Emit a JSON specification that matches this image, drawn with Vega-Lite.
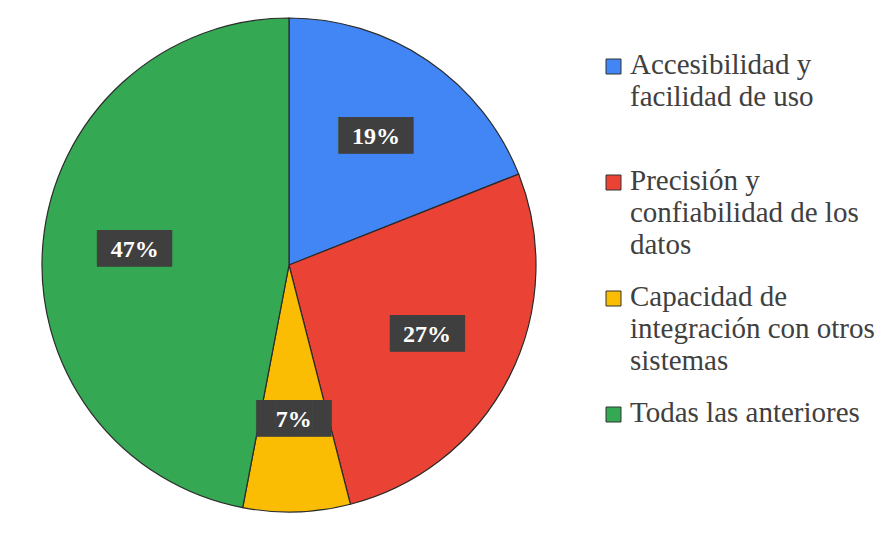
{
  "$schema": "https://vega.github.io/schema/vega-lite/v6.json",
  "width": 578,
  "height": 530,
  "autosize": "none",
  "padding": {"left": 0, "top": 0, "right": 315, "bottom": 3},
  "background": "white",
  "config": {"view": {"stroke": null}},
  "data": {
    "values": [
      {"categoria": "Accesibilidad y facilidad de uso", "pct": 19, "orden": 1, "etiqueta": "19%"},
      {"categoria": "Precisión y confiabilidad de los datos", "pct": 27, "orden": 2, "etiqueta": "27%"},
      {"categoria": "Capacidad de integración con otros sistemas", "pct": 7, "orden": 3, "etiqueta": "7%"},
      {"categoria": "Todas las anteriores", "pct": 47, "orden": 4, "etiqueta": "47%"}
    ]
  },
  "encoding": {
    "theta": {"field": "pct", "type": "quantitative", "stack": true},
    "order": {"field": "orden", "type": "quantitative"}
  },
  "layer": [
    {
      "mark": {"type": "arc", "outerRadius": 247, "stroke": "#2b2b2b", "strokeWidth": 1.2},
      "encoding": {
        "color": {
          "field": "categoria",
          "type": "nominal",
          "sort": ["Accesibilidad y facilidad de uso", "Precisión y confiabilidad de los datos", "Capacidad de integración con otros sistemas", "Todas las anteriores"],
          "scale": {
            "domain": ["Accesibilidad y facilidad de uso", "Precisión y confiabilidad de los datos", "Capacidad de integración con otros sistemas", "Todas las anteriores"],
            "range": ["#4285f4", "#ea4335", "#fbbc04", "#34a853"]
          },
          "legend": {
            "title": null,
            "orient": "none",
            "legendX": 599,
            "legendY": 52,
            "symbolType": "square",
            "symbolSize": 225,
            "symbolStrokeColor": "#333333",
            "symbolStrokeWidth": 1,
            "labelFont": "Liberation Serif",
            "labelFontSize": 29,
            "labelColor": "#404040",
            "labelLimit": 400,
            "labelBaseline": "alphabetic",
            "labelOffset": 2,
            "rowPadding": 22,
            "encode": {"labels": {"update": {"dy": {"value": 7}, "lineHeight": {"value": 32}}}},
            "labelExpr": "datum.label == 'Accesibilidad y facilidad de uso' ? ['Accesibilidad y', 'facilidad de uso', ''] : datum.label == 'Precisión y confiabilidad de los datos' ? ['Precisión y', 'confiabilidad de los', 'datos'] : datum.label == 'Capacidad de integración con otros sistemas' ? ['Capacidad de', 'integración con otros', 'sistemas'] : datum.label"
          }
        }
      }
    },
    {
      "mark": {"type": "text", "radius": 155, "text": "████", "font": "DejaVu Sans Mono", "fontSize": 31, "color": "#3f3f3f", "baseline": "middle"},
      "encoding": {}
    },
    {
      "mark": {"type": "text", "radius": 155, "font": "Liberation Serif", "fontWeight": "bold", "fontSize": 24, "color": "white", "baseline": "middle"},
      "encoding": {"text": {"field": "etiqueta", "type": "nominal"}}
    }
  ]
}
